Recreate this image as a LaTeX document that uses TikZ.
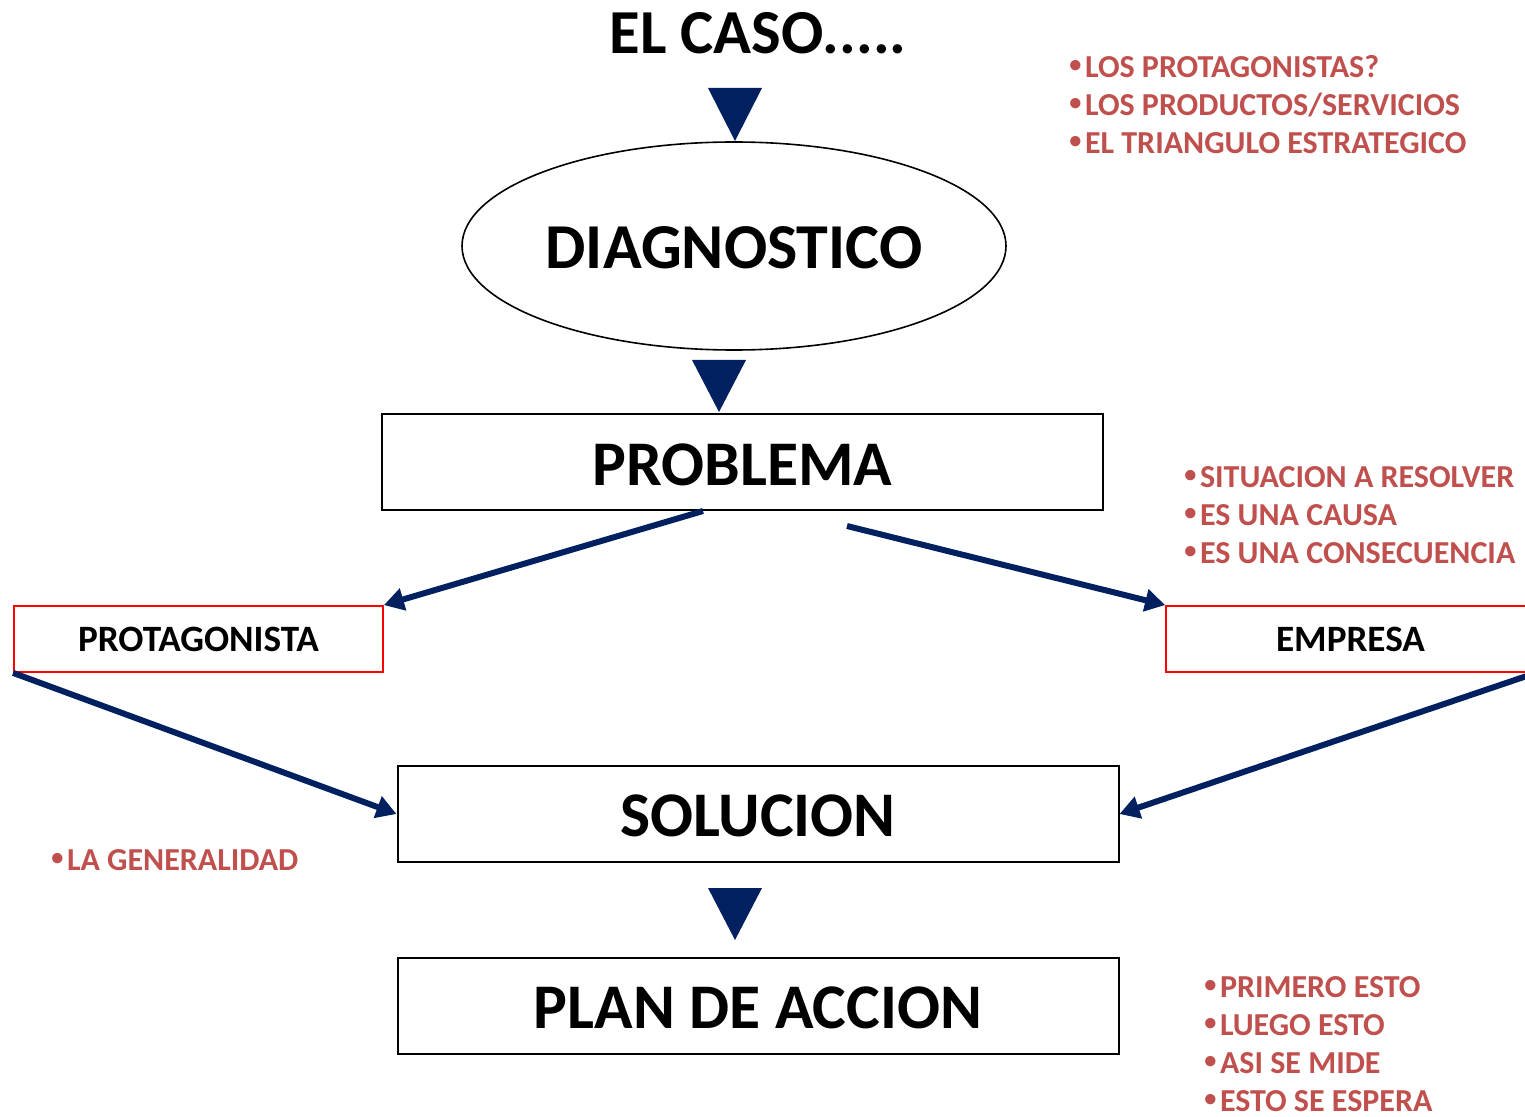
\documentclass[tikz,border=0pt]{standalone}
\usepackage{fontspec}
\setmainfont{Carlito}
\newfontfamily\bulletfont{Liberation Sans}
\usetikzlibrary{arrows.meta,shapes.geometric}
\definecolor{navy}{HTML}{002060}
\definecolor{redtxt}{HTML}{C0504D}
\newcommand{\bul}{{\bulletfont\fontsize{18}{19}\selectfont •}\hspace{1.5pt}}
\tikzset{
  mainbox/.style={draw=black,line width=1pt,minimum width=360.5pt,minimum height=48pt,inner sep=0pt,font=\bfseries\fontsize{31.8}{34}\selectfont},
  redbox/.style={draw=red,line width=0.9pt,minimum width=184.5pt,minimum height=33pt,inner sep=0pt,font=\bfseries\fontsize{18.6}{21}\selectfont},
  flow/.style={draw=navy,line width=3pt,-{Triangle[length=10pt,width=11pt]}},
  tri/.style={fill=navy},
  note/.style={text=redtxt,font=\bfseries\fontsize{16}{19}\selectfont,anchor=west,inner sep=0pt,align=left}
}
\begin{document}
\begin{tikzpicture}[x=0.5pt,y=-0.5pt]
\useasboundingbox (0,0) rectangle (1525,1117);
\clip (0,0) rectangle (1525,1117);
% title
\node[font=\bfseries\fontsize{31.3}{34}\selectfont] (caso) at (758,33) {EL CASO.....};
% triangles
\fill[tri] (708,88) -- (762,88) -- (735,141) -- cycle;
\fill[tri] (692,360) -- (746,360) -- (719,412) -- cycle;
\fill[tri] (708,888) -- (762,888) -- (735,940) -- cycle;
% ellipse
\node[draw=black,line width=0.8pt,ellipse,minimum width=272pt,minimum height=104pt,inner sep=0pt] (diag) at (734,246) {};
\node[font=\bfseries\fontsize{32}{35}\selectfont] (diagtext) at (734,248) {DIAGNOSTICO};
% boxes
\node[mainbox] (prob) at (742.5,462) {};
\node[mainbox,draw=none] (probtext) at (742.5,465) {PROBLEMA};
\node[mainbox] (sol) at (758,814) {};
\node[mainbox,draw=none] (soltext) at (758,816) {SOLUCION};
\node[mainbox] (plan) at (758,1006) {};
\node[mainbox,draw=none] (plantext) at (758,1008) {PLAN DE ACCION};
\node[redbox] (prot) at (198.5,639) {PROTAGONISTA};
\node[redbox] (emp) at (1350.5,639) {EMPRESA};
% connectors
\coordinate (p1) at (703,511);
\coordinate (p2) at (847,526);
\draw[flow] (p1) -- (prot.north east);
\draw[flow] (p2) -- (emp.north west);
\draw[flow] (prot.south west) -- (sol.west);
\draw[flow] (emp.south east) -- (sol.east);
% notes
\node[note] (n1) at (1069,105) {\bul LOS PROTAGONISTAS?\\\bul LOS PRODUCTOS/SERVICIOS\\\bul EL TRIANGULO ESTRATEGICO};
\node[note] (n2) at (1184,515) {\bul SITUACION A RESOLVER\\\bul ES UNA CAUSA\\\bul ES UNA CONSECUENCIA};
\node[note] (n3) at (51,860) {\bul LA GENERALIDAD};
\node[note] (n4) at (1204,1044) {\bul PRIMERO ESTO\\\bul LUEGO ESTO\\\bul ASI SE MIDE\\\bul ESTO SE ESPERA};
\end{tikzpicture}
\end{document}
